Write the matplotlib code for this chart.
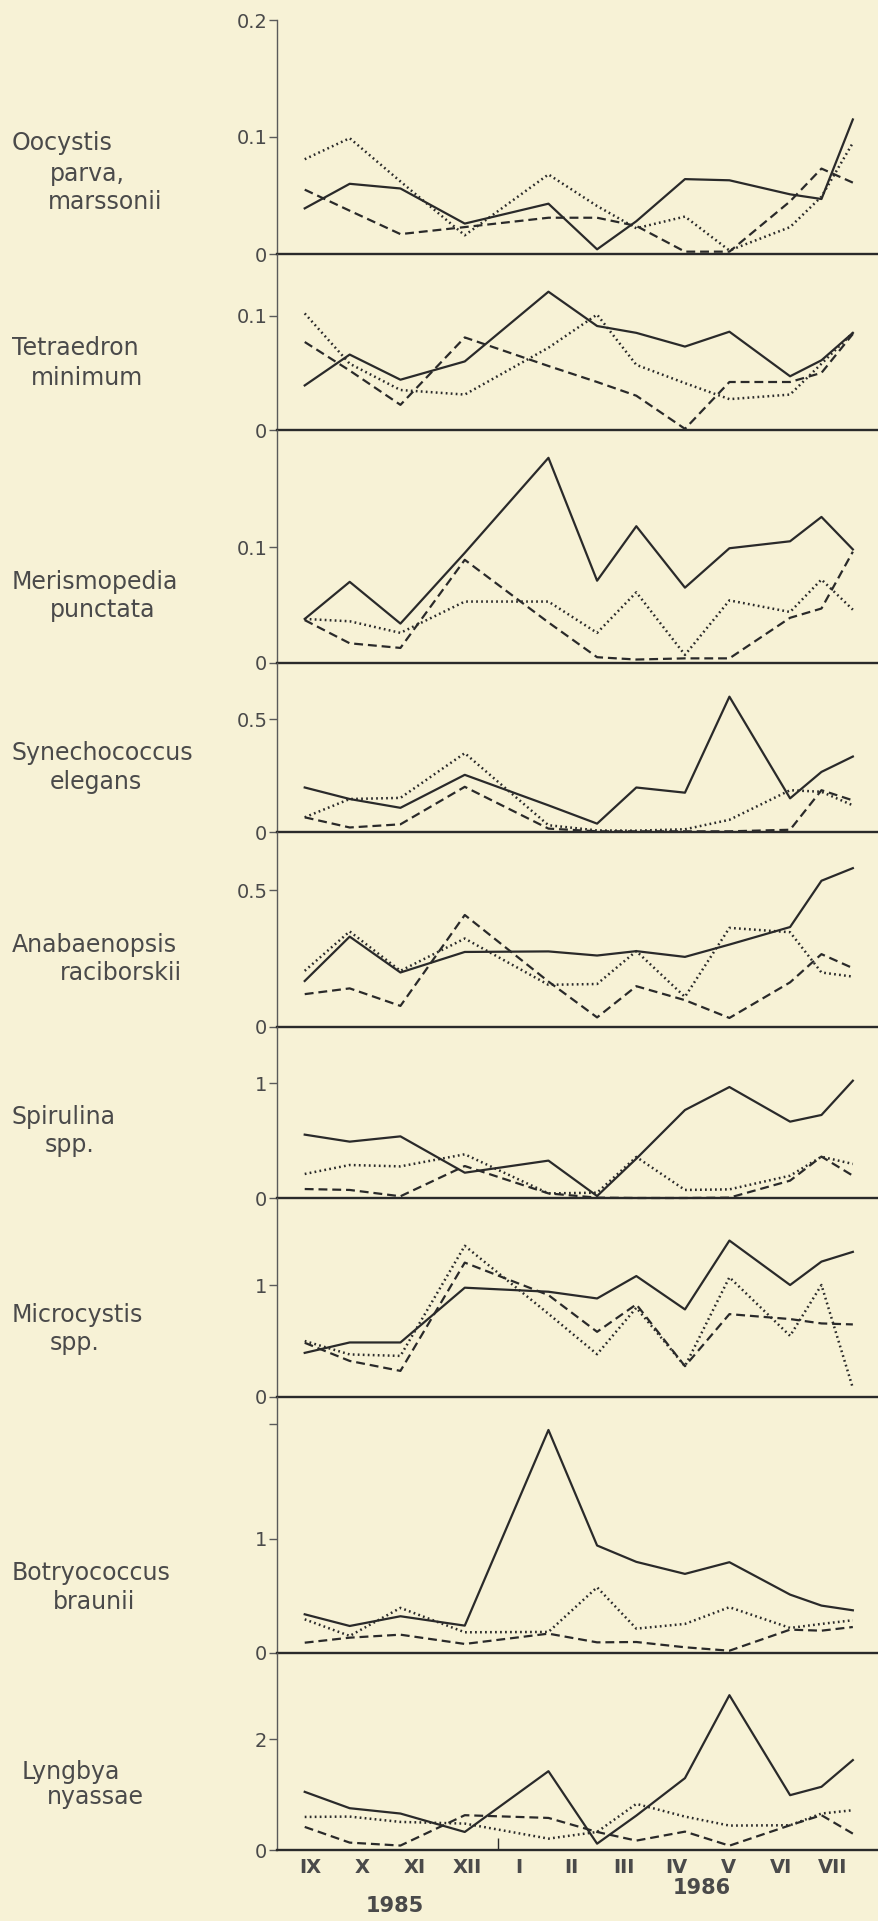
import numpy as np
import matplotlib.pyplot as plt

# sampling dates in month units (IX 1985 = 0)
sample_x = [-0.10, 0.76, 1.73, 2.96, 4.56, 5.49, 6.24, 7.17, 8.02, 9.18, 9.78, 10.38]
months = ['IX', 'X', 'XI', 'XII', 'I', 'II', 'III', 'IV', 'V', 'VI', 'VII']

names = [
    ['Oocystis', 'parva,', 'marssonii'],
    ['Tetraedron', 'minimum'],
    ['Merismopedia', 'punctata'],
    ['Synechococcus', 'elegans'],
    ['Anabaenopsis', 'raciborskii'],
    ['Spirulina', 'spp.'],
    ['Microcystis', 'spp.'],
    ['Botryococcus', 'braunii'],
    ['Lyngbya', 'nyassae'],
]

# three series per species: solid, dotted, dashed
solid = [
    [0.039, 0.060, 0.056, 0.026, 0.043, 0.004, 0.028, 0.064, 0.063, 0.051, 0.047, 0.115],
    [0.039, 0.066, 0.044, 0.060, 0.121, 0.091, 0.085, 0.073, 0.086, 0.047, 0.061, 0.085],
    [0.038, 0.070, 0.034, 0.095, 0.177, 0.071, 0.118, 0.065, 0.099, 0.105, 0.126, 0.098],
    [0.197, 0.146, 0.107, 0.253, 0.118, 0.037, 0.197, 0.174, 0.599, 0.149, 0.266, 0.334],
    [0.168, 0.330, 0.199, 0.274, 0.276, 0.261, 0.277, 0.256, 0.301, 0.365, 0.534, 0.580],
    [0.551, 0.490, 0.536, 0.220, 0.325, 0.017, 0.342, 0.765, 0.965, 0.664, 0.722, 1.020],
    [0.394, 0.487, 0.487, 0.976, 0.940, 0.880, 1.080, 0.782, 1.397, 1.000, 1.209, 1.296],
    [0.338, 0.236, 0.321, 0.239, 1.948, 0.939, 0.796, 0.691, 0.793, 0.510, 0.414, 0.373],
    [1.048, 0.753, 0.657, 0.325, 1.420, 0.114, 0.620, 1.295, 2.790, 0.988, 1.139, 1.620],
]
dotted = [
    [0.081, 0.099, 0.062, 0.016, 0.068, 0.041, 0.022, 0.032, 0.003, 0.023, 0.049, 0.095],
    [0.102, 0.058, 0.035, 0.031, 0.072, 0.101, 0.057, 0.041, 0.027, 0.031, 0.058, 0.085],
    [0.038, 0.036, 0.026, 0.053, 0.053, 0.026, 0.061, 0.007, 0.054, 0.044, 0.072, 0.046],
    [0.065, 0.146, 0.151, 0.349, 0.030, 0.007, 0.006, 0.012, 0.054, 0.185, 0.178, 0.118],
    [0.205, 0.349, 0.205, 0.323, 0.154, 0.157, 0.277, 0.110, 0.362, 0.346, 0.199, 0.184],
    [0.209, 0.287, 0.275, 0.380, 0.040, 0.046, 0.357, 0.070, 0.075, 0.194, 0.359, 0.296],
    [0.500, 0.380, 0.367, 1.350, 0.743, 0.382, 0.797, 0.275, 1.069, 0.546, 1.000, 0.080],
    [0.294, 0.149, 0.394, 0.181, 0.184, 0.574, 0.213, 0.254, 0.400, 0.219, 0.254, 0.286],
    [0.596, 0.602, 0.506, 0.476, 0.205, 0.325, 0.831, 0.602, 0.440, 0.446, 0.657, 0.717],
]
dashed = [
    [0.055, 0.037, 0.017, 0.023, 0.031, 0.031, 0.024, 0.002, 0.002, 0.045, 0.073, 0.061],
    [0.077, 0.052, 0.022, 0.081, 0.056, 0.042, 0.030, 0.001, 0.042, 0.042, 0.050, 0.084],
    [0.037, 0.017, 0.013, 0.089, 0.035, 0.005, 0.003, 0.004, 0.004, 0.039, 0.047, 0.096],
    [0.065, 0.020, 0.034, 0.200, 0.015, 0.003, 0.003, 0.003, 0.003, 0.010, 0.185, 0.140],
    [0.120, 0.141, 0.077, 0.409, 0.166, 0.035, 0.149, 0.098, 0.033, 0.163, 0.266, 0.215],
    [0.078, 0.070, 0.015, 0.278, 0.040, 0.003, 0.000, 0.000, 0.003, 0.151, 0.360, 0.194],
    [0.484, 0.322, 0.233, 1.200, 0.910, 0.582, 0.827, 0.275, 0.740, 0.696, 0.657, 0.648],
    [0.090, 0.134, 0.160, 0.079, 0.169, 0.093, 0.096, 0.050, 0.020, 0.204, 0.195, 0.227],
    [0.416, 0.133, 0.080, 0.627, 0.578, 0.325, 0.169, 0.331, 0.078, 0.446, 0.627, 0.295],
]

yticks = [[0, 0.1, 0.2], [0, 0.1], [0, 0.1], [0, 0.5], [0, 0.5],
          [0, 1], [0, 1], [0, 1, 2], [0, 2]]
ytick_labels = [['0', '0.1', '0.2'], ['0', '0.1'], ['0', '0.1'], ['0', '0.5'], ['0', '0.5'],
                ['0', '1'], ['0', '1'], ['0', '1', ''], ['0', '2']]

# --- layout (pixels of the 879x1921 canvas) ---
W, H = 879, 1921
BG = '#f7f2d6'
INK = '#2a2a2a'
TXT = '#4a4a4a'
ax_left = 277
panel_px = [(20, 254), (254, 430), (430, 663), (663, 832), (832, 1027),
            (1027, 1198), (1198, 1397), (1397, 1653), (1653, 1850)]
ytops = [0.2, 0.154, 0.201, 0.748, 0.712, 1.487, 1.777, 2.236, 3.55]
label_pos = [
    [(12, 143), (50, 174), (48, 202)],
    [(12, 348), (31, 378)],
    [(12, 582), (50, 610)],
    [(12, 753), (50, 782)],
    [(12, 945), (60, 973)],
    [(12, 1117), (45, 1145)],
    [(12, 1315), (50, 1343)],
    [(12, 1573), (53, 1602)],
    [(22, 1772), (47, 1797)],
]

plt.rcParams['font.family'] = ['DejaVu Sans']
fig = plt.figure(figsize=(W / 100, H / 100), dpi=100, facecolor=BG)

for i in range(len(names)):
    top, zero = panel_px[i]
    ax = fig.add_axes([ax_left / W, 1 - zero / H, 1 - ax_left / W, (zero - top) / H])
    ax.set_facecolor('none')
    ax.plot(sample_x, solid[i], color=INK, lw=1.6, ls='-', clip_on=False)
    ax.plot(sample_x, dotted[i], color=INK, lw=1.8, ls=(0, (0.7, 1.3)), clip_on=False)
    ax.plot(sample_x, dashed[i], color=INK, lw=1.6, ls=(0, (4, 2.2)), clip_on=False)
    ax.set_xlim(-0.63, 10.88)
    ax.set_ylim(0, ytops[i])
    for s in ['top', 'right']:
        ax.spines[s].set_visible(False)
    ax.spines['left'].set_color('#5a5a5a')
    ax.spines['left'].set_linewidth(1.0)
    ax.spines['bottom'].set_color(INK)
    ax.spines['bottom'].set_linewidth(1.7)
    ax.set_yticks(yticks[i])
    ax.set_yticklabels(ytick_labels[i])
    ax.tick_params(axis='y', direction='out', length=6, width=1, pad=1,
                   labelsize=14, labelcolor=TXT, color='#5a5a5a')
    if i < len(names) - 1:
        ax.set_xticks([])
    else:
        ax.set_xticks(range(len(months)))
        ax.set_xticklabels(months, fontweight='bold')
        ax.tick_params(axis='x', length=0, pad=6, labelsize=14, labelcolor=TXT)
        ax.set_xticks([3.6], minor=True)
        ax.tick_params(axis='x', which='minor', direction='in', length=9,
                       width=1, color=INK)

    for line, (px, py) in zip(names[i], label_pos[i]):
        fig.text(px / W, 1 - py / H, line, ha='left', va='center',
                 fontsize=17, color=TXT)

fig.text(395 / W, 1 - 1906 / H, '1985', ha='center', va='center',
         fontsize=15, fontweight='bold', color=TXT)
fig.text(702 / W, 1 - 1888 / H, '1986', ha='center', va='center',
         fontsize=15, fontweight='bold', color=TXT)

fig.savefig('out.png', dpi=100, facecolor=BG)
